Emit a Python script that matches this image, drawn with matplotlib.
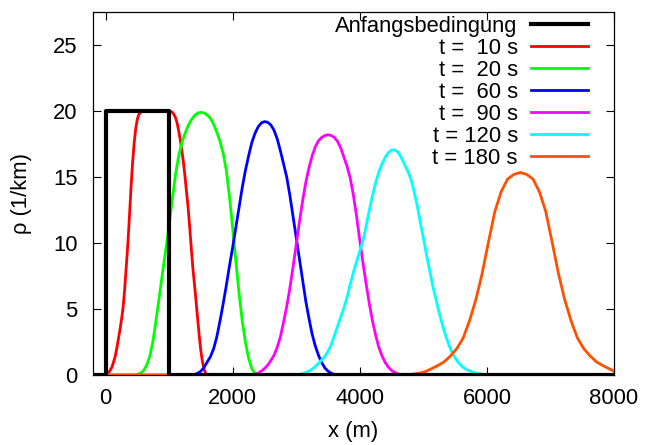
import matplotlib
matplotlib.use("Agg")
import matplotlib.pyplot as plt

plt.rcParams['font.family'] = ['Liberation Sans', 'DejaVu Sans']
plt.rcParams['font.size'] = 15.8

# initial condition (box)
x0 = [-200, 0, 0, 1000, 1000, 8000]
rho0 = [0, 0, 20, 20, 0, 0]

# t = 10 s
x10 = [-200, 0, 50, 100, 150, 175, 200, 225, 250, 275, 300, 325, 350, 375, 400, 425, 450, 475,
       500, 525, 550, 575, 600, 1000, 1025, 1050, 1075, 1100, 1125, 1150, 1175, 1200, 1225, 1250,
       1275, 1300, 1325, 1350, 1375, 1400, 1425, 1450, 1475, 1500, 1525, 1550, 1575, 1600, 1650, 8000]
rho10 = [0, 0, 0.2, 0.6, 1.4, 2.0, 2.7, 3.4, 4.2, 5.1, 6.5, 8.2, 9.9, 12.0, 14.2, 16.1, 17.6, 18.7,
         19.4, 19.75, 19.9, 19.97, 20, 20, 19.97, 19.9, 19.75, 19.5, 19.1, 18.5, 17.8, 17.0, 16.1, 15.0,
         13.8, 12.6, 11.1, 9.5, 8.0, 6.8, 5.5, 4.2, 2.9, 1.8, 1.0, 0.45, 0.15, 0.03, 0, 0]

# t = 20 s
x20 = [-200, 450, 500, 550, 600, 650, 700, 750, 800, 850, 900, 950, 1000, 1050, 1100, 1150, 1200,
       1250, 1300, 1350, 1400, 1450, 1500, 1550, 1600, 1650, 1700, 1750, 1800, 1850, 1900, 1950,
       2000, 2050, 2100, 2150, 2200, 2250, 2300, 2350, 2400, 2450, 8000]
rho20 = [0, 0, 0.05, 0.15, 0.35, 0.8, 1.5, 2.7, 4.4, 6.1, 7.9, 9.6, 11.4, 13.3, 15.2, 16.6, 17.6,
         18.3, 18.9, 19.35, 19.65, 19.85, 19.9, 19.85, 19.7, 19.45, 19.0, 18.4, 17.7, 16.8, 15.5, 13.5,
         11.1, 8.6, 6.2, 4.1, 2.5, 1.3, 0.5, 0.1, 0.02, 0, 0]

# t = 60 s
x60 = [-200, 1350, 1400, 1450, 1500, 1550, 1600, 1650, 1700, 1750, 1800, 1850, 1900, 1950, 2000,
       2050, 2100, 2150, 2200, 2250, 2300, 2350, 2400, 2450, 2500, 2550, 2600, 2650, 2700, 2750,
       2800, 2850, 2900, 2950, 3000, 3050, 3100, 3150, 3200, 3250, 3300, 3350, 3400, 3450, 3500,
       3550, 3600, 3650, 3700, 8000]
rho60 = [0, 0, 0.05, 0.15, 0.3, 0.6, 1.0, 1.4, 2.0, 2.9, 4.1, 5.4, 6.8, 8.3, 9.7,
         11.2, 12.7, 14.2, 15.5, 16.6, 17.6, 18.3, 18.8, 19.1, 19.2, 19.15, 18.95, 18.55, 17.9, 17.0,
         16.0, 15.0, 13.6, 12.0, 10.4, 8.8, 7.2, 5.6, 4.3, 3.1, 2.2, 1.5, 0.95, 0.55, 0.3,
         0.15, 0.05, 0.01, 0, 0]

# t = 90 s
x90 = [-200, 2250, 2300, 2350, 2400, 2450, 2500, 2550, 2600, 2650, 2700, 2750, 2800, 2850, 2900,
       2950, 3000, 3050, 3100, 3150, 3200, 3250, 3300, 3350, 3400, 3450, 3500, 3550, 3600, 3650,
       3700, 3750, 3800, 3850, 3900, 3950, 4000, 4050, 4100, 4150, 4200, 4250, 4300, 4350, 4400,
       4450, 4500, 4550, 4600, 4650, 4700, 4750, 8000]
rho90 = [0, 0, 0.03, 0.08, 0.15, 0.3, 0.5, 0.75, 1.1, 1.5, 2.1, 2.9, 4.0, 5.2, 6.6,
         8.2, 9.9, 11.6, 13.2, 14.6, 15.7, 16.6, 17.3, 17.75, 18.0, 18.15, 18.2, 18.15, 18.0, 17.7,
         17.2, 16.5, 15.8, 14.9, 13.6, 12.0, 10.2, 8.5, 6.9, 5.4, 4.1, 3.0, 2.1, 1.45, 0.95,
         0.6, 0.35, 0.2, 0.1, 0.05, 0.02, 0, 0]

# t = 120 s
x120 = [-200, 2950, 3000, 3050, 3100, 3150, 3200, 3250, 3300, 3350, 3400, 3450, 3500, 3550, 3600,
        3650, 3700, 3750, 3800, 3850, 3900, 3950, 4000, 4050, 4100, 4150, 4200, 4250, 4300, 4350,
        4400, 4450, 4500, 4550, 4600, 4650, 4700, 4750, 4800, 4850, 4900, 4950, 5000, 5050, 5100,
        5150, 5200, 5250, 5300, 5350, 5400, 5450, 5500, 5550, 5600, 5650, 5700, 5750, 5800, 5850,
        5900, 5950, 6000, 6050, 8000]
rho120 = [0, 0, 0.03, 0.06, 0.1, 0.2, 0.3, 0.45, 0.65, 0.9, 1.15, 1.4, 1.8, 2.3, 3.0,
          3.7, 4.4, 5.1, 5.9, 6.9, 7.8, 8.6, 9.4, 10.2, 11.3, 12.5, 13.6, 14.6, 15.4, 16.0,
          16.5, 16.85, 17.05, 17.05, 16.9, 16.5, 16.0, 15.5, 14.9, 14.0, 12.9, 11.6, 10.4, 9.1, 7.9,
          6.7, 5.7, 4.7, 3.8, 3.0, 2.3, 1.75, 1.3, 0.95, 0.7, 0.5, 0.38, 0.28, 0.2, 0.14,
          0.09, 0.05, 0.02, 0, 0]

# t = 180 s
x180 = [-200, 4625, 4725, 4825, 4925, 5025, 5125, 5225, 5325, 5425, 5525, 5625, 5725, 5825, 5925,
        6025, 6125, 6225, 6325, 6425, 6525, 6625, 6725, 6825, 6925, 7025, 7125, 7225, 7325, 7425,
        7525, 7625, 7725, 7825, 7925, 8000]
rho180 = [0, 0, 0.02, 0.07, 0.14, 0.25, 0.48, 0.72, 1.0, 1.45, 2.0, 2.8, 4.1, 5.7, 7.7,
          10.1, 12.4, 13.9, 14.85, 15.2, 15.35, 15.2, 14.85, 13.9, 12.4, 10.1, 7.7, 5.7, 4.1, 2.8,
          2.0, 1.45, 1.0, 0.72, 0.48, 0.3]

series = [
    (x10, rho10, 't =  10 s', '#ff0000'),
    (x20, rho20, 't =  20 s', '#00ff00'),
    (x60, rho60, 't =  60 s', '#0000ff'),
    (x90, rho90, 't =  90 s', '#ff00ff'),
    (x120, rho120, 't = 120 s', '#00ffff'),
    (x180, rho180, 't = 180 s', '#ff5000'),
]

fig = plt.figure(figsize=(6.45, 4.45), dpi=100)
ax = fig.add_axes([0.144, 0.157, 0.808, 0.816])

handles = []
h0, = ax.plot(x0, rho0, color='black', lw=3.0, label='Anfangsbedingung', zorder=5)
handles.append(h0)
for xs, ys, lab, col in series:
    h, = ax.plot(xs, ys, color=col, lw=2.0, label=lab, zorder=3)
    handles.append(h)

ax.set_xlim(-200, 8000)
ax.set_ylim(0, 27.5)
ax.set_xticks([0, 2000, 4000, 6000, 8000])
ax.set_yticks([0, 5, 10, 15, 20, 25])
ax.tick_params(direction='in', top=True, right=True, length=6, width=0.8)
ax.tick_params(axis='x', pad=9)
ax.tick_params(axis='y', pad=11)
for s in ax.spines.values():
    s.set_linewidth(0.9)

ax.set_xlabel('x (m)', labelpad=9)
ax.set_ylabel('ρ (1/km)', labelpad=15)

ax.legend(handles=handles, loc='upper right', bbox_to_anchor=(0.950, 0.990),
          frameon=False, markerfirst=False,
          handlelength=2.6, handletextpad=0.6, labelspacing=0.045,
          borderaxespad=0.0, borderpad=0.0)

fig.savefig('out.png', dpi=100)
